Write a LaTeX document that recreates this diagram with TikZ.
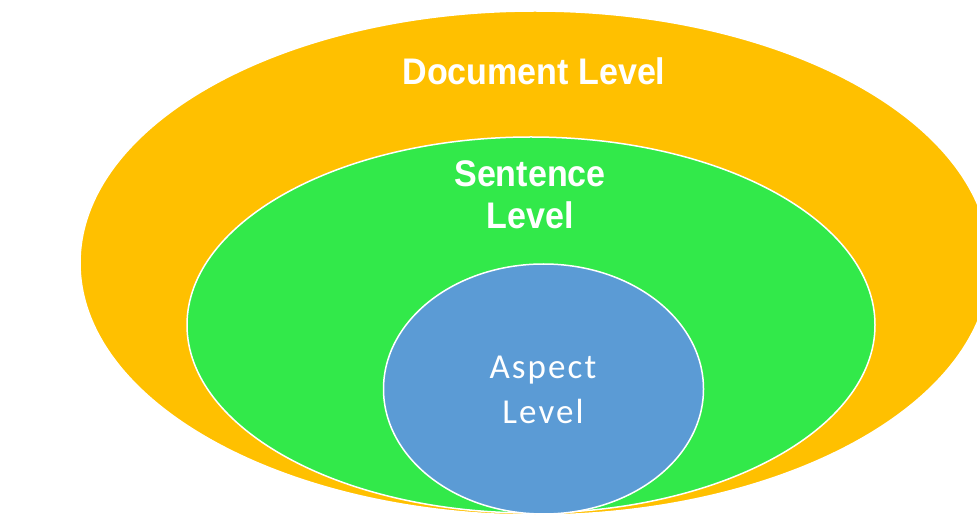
\documentclass[tikz,border=0pt]{standalone}
\usepackage{fontspec}
\setmainfont{Liberation Sans}
\newfontfamily\calib{Carlito}[LetterSpace=6]
\definecolor{docorange}{RGB}{255,192,0}
\definecolor{sentgreen}{RGB}{50,233,74}
\definecolor{aspblue}{RGB}{91,155,213}
\tikzset{
  level/.style={draw=white, line width=1.5pt},
  boldlab/.style={text=white, font=\fontsize{37}{44}\selectfont\bfseries, inner sep=0pt, anchor=base},
  lightlab/.style={text=white, font=\calib\fontsize{35}{44}\selectfont, inner sep=0pt, anchor=base}
}
\begin{document}
\begin{tikzpicture}[x=1pt,y=1pt]
\useasboundingbox (0,0) rectangle (977,525);
\clip (0,0) rectangle (977,525);
\fill[white] (0,0) rectangle (977,525);
\path[level, fill=docorange] (535,262) ellipse [x radius=455, y radius=252];
\path[level, fill=sentgreen] (531,200) ellipse [x radius=344, y radius=188];
\path[level, fill=aspblue] (543.5,136) ellipse [x radius=160, y radius=125];
\node[boldlab] (doc) at (534,440) {\scalebox{0.92}[1]{Document Level}};
\node[boldlab] (sent1) at (530,338) {\scalebox{0.92}[1]{Sentence}};
\node[boldlab] (sent2) at (530,296) {\scalebox{0.92}[1]{Level}};
\node[lightlab] (asp1) at (543,146) {Aspect};
\node[lightlab] (asp2) at (543,102) {Level};
\end{tikzpicture}
\end{document}
